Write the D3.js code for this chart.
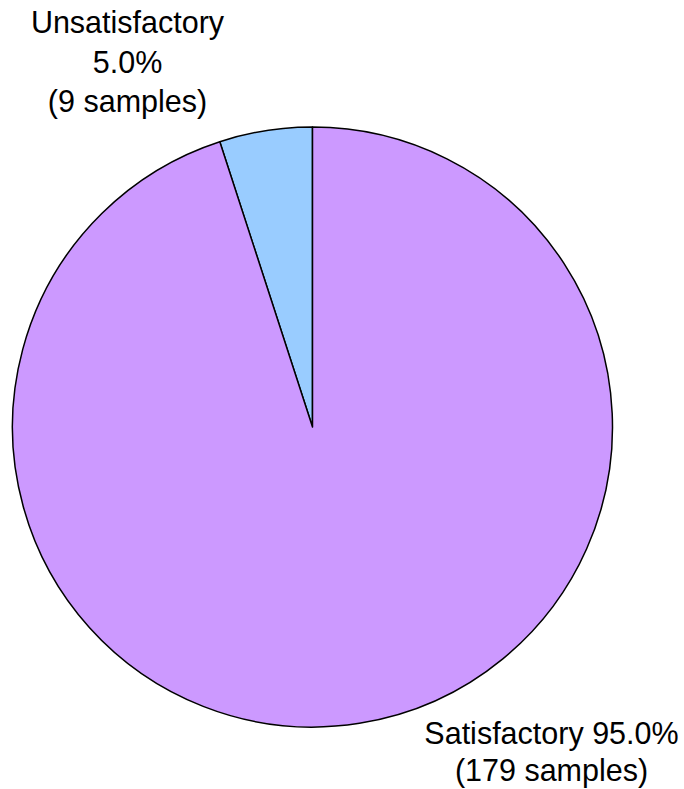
<!DOCTYPE html>
<html><head><meta charset="utf-8">
<script src="https://cdn.jsdelivr.net/npm/d3@7"></script>
<style>body{margin:0;background:#fff;}svg{display:block;}</style>
</head><body>
<svg id="chart" width="684" height="789"></svg>
<script>
const categories = ["Unsatisfactory", "Satisfactory"];
const percents = [5.0, 95.0];
const samples = [9, 179];
const colors = ["#99CCFF", "#CC99FF"];

const svg = d3.select("#chart");
const cx = 312.5, cy = 427, r = 300;
const data = categories.map((c, i) => ({name: c, pct: percents[i], n: samples[i], color: colors[i]}));

// Unsatisfactory slice sits just left of 12 o'clock; draw clockwise starting at -5% of circle
const pie = d3.pie().value(d => d.pct).sort(null)
  .startAngle(-2 * Math.PI * percents[0] / 100)
  .endAngle(2 * Math.PI - 2 * Math.PI * percents[0] / 100);
const arc = d3.arc().innerRadius(0).outerRadius(r);

const g = svg.append("g").attr("transform", `translate(${cx},${cy})`);
g.selectAll("path").data(pie(data)).join("path")
  .attr("d", arc)
  .attr("fill", d => d.data.color)
  .attr("stroke", "#000")
  .attr("stroke-width", 1.5)
  .attr("stroke-linejoin", "round");

const font = "Liberation Sans, Arial, sans-serif";
const fs = 30.5;
// Unsatisfactory label
const t1 = svg.append("text").attr("font-family", font).attr("font-size", fs)
  .attr("text-anchor", "middle").attr("fill", "#000");
[`${data[0].name}`, `${data[0].pct.toFixed(1)}%`, `(${data[0].n} samples)`].forEach((s, i) => {
  t1.append("tspan").attr("x", 127.5).attr("y", 33 + i * 39.5).text(s);
});
// Satisfactory label
const t2 = svg.append("text").attr("font-family", font).attr("font-size", fs)
  .attr("text-anchor", "middle").attr("fill", "#000");
[`${data[1].name} ${data[1].pct.toFixed(1)}%`, `(${data[1].n} samples)`].forEach((s, i) => {
  t2.append("tspan").attr("x", 551.5).attr("y", 744 + i * 37).text(s);
});
</script>
</body></html>
